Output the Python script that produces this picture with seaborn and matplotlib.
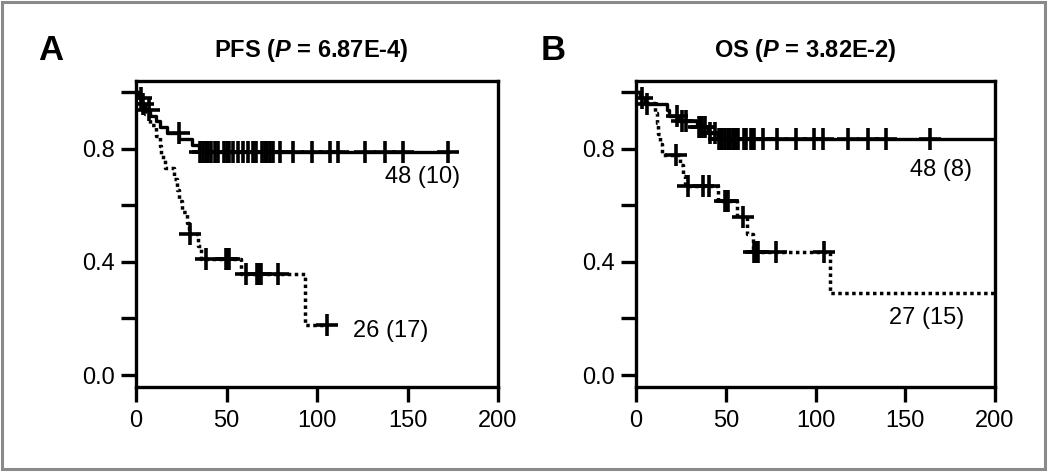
import numpy as np
import pandas as pd
import matplotlib
matplotlib.use("Agg")
import matplotlib.pyplot as plt
import seaborn as sns
from matplotlib.patches import Rectangle

### data (time in months, survival fraction)

# A) PFS, solid group: 48 (10)
pfs_solid_t = [0, 1.5, 3, 5, 8, 11, 13, 17, 24, 31, 35, 173]
pfs_solid_s = [1.0, 0.979, 0.958, 0.938, 0.917, 0.896, 0.875, 0.854, 0.833, 0.812, 0.787, 0.787]
pfs_solid_cens = [2.5, 4, 7, 23.5, 35.5, 37, 38.5, 40, 41.5, 43.5, 45.5, 48.5, 50, 51.5,
                  53.5, 56.5, 59, 62, 64.5, 66.5, 69.5, 71, 72.5, 74, 75.5, 79.5, 86.5,
                  97, 107, 111.5, 126.5, 137.5, 147.5, 172.5]

# A) PFS, dotted group: 26 (17)
pfs_dot_t = [0, 2, 5, 8, 11, 13, 14, 16, 21, 22.5, 24, 25.5, 28, 29.5, 34, 36, 58, 93.5, 106]
pfs_dot_s = [1.0, 0.962, 0.923, 0.885, 0.846, 0.808, 0.769, 0.731, 0.692, 0.654, 0.615,
             0.577, 0.538, 0.50, 0.455, 0.41, 0.356, 0.178, 0.178]
pfs_dot_cens = [30, 38.5, 49.5, 50.5, 51.5, 60.5, 67, 68, 69, 78.5, 105.5]

# B) OS, solid group: 48 (8)
os_solid_t = [0, 2, 5, 17, 18.5, 24, 34, 40, 45.5, 200]
os_solid_s = [1.0, 0.979, 0.958, 0.938, 0.917, 0.896, 0.875, 0.854, 0.833, 0.833]
os_solid_cens = [3.5, 6, 23, 25.5, 28, 35, 36, 37, 38.5, 41, 44, 46, 47, 48, 49.5, 51,
                 52.5, 54, 55, 56, 57, 60, 61.5, 64, 65, 66, 71, 78.5, 89, 99, 104, 118,
                 129, 139, 164]

# B) OS, dotted group: 27 (15)
os_dot_t = [0, 3, 10.5, 11.5, 12.5, 13.5, 14.5, 24.5, 26, 27.5, 45.5, 56, 62, 65, 108, 200]
os_dot_s = [1.0, 0.963, 0.926, 0.889, 0.852, 0.815, 0.778, 0.741, 0.704, 0.667, 0.615,
            0.56, 0.50, 0.436, 0.29, 0.29]
os_dot_cens = [22.5, 29, 37.5, 40.5, 49.5, 50.5, 51.5, 59.5, 66, 67, 68, 78, 105]

panel_letters = ["A", "B"]
panel_titles = [r"PFS ($P$ = 6.87E-4)", r"OS ($P$ = 3.82E-2)"]
pfs_labels = ["48 (10)", "26 (17)"]
os_labels = ["48 (8)", "27 (15)"]

x_ticks = [0, 50, 100, 150, 200]
y_ticks = [0.0, 0.2, 0.4, 0.6, 0.8, 1.0]
y_ticklabels = ["0.0", "", "0.4", "", "0.8", ""]

### style
sns.set_style("ticks")
plt.rcParams["font.family"] = ["Liberation Sans", "DejaVu Sans"]
plt.rcParams["text.color"] = "black"
plt.rcParams["mathtext.fontset"] = "custom"
plt.rcParams["mathtext.it"] = "Liberation Sans:italic:bold"
plt.rcParams["mathtext.rm"] = "Liberation Sans:bold"

LW = 2.4      # curves / frame
FS = 17       # tick labels and group labels


def surv_at(t_steps, s_steps, times):
    # value of the step curve at each censor time
    idx = np.searchsorted(np.array(t_steps), np.array(times), side="right") - 1
    return np.array(s_steps)[idx]


def km_curve(ax, t, s, cens, style):
    df = pd.DataFrame({"time": t, "surv": s})
    if style == "solid":
        sns.lineplot(data=df, x="time", y="surv", ax=ax, color="black", linewidth=LW,
                     drawstyle="steps-post", sort=False, estimator=None)
    else:
        sns.lineplot(data=df, x="time", y="surv", ax=ax, color="black", linewidth=2.5,
                     linestyle=(0, (1, 1)), drawstyle="steps-post", sort=False, estimator=None)
    cdf = pd.DataFrame({"time": cens, "surv": surv_at(t, s, cens)})
    sns.scatterplot(data=cdf, x="time", y="surv", ax=ax, color="black", marker="+",
                    s=230, linewidth=2.6, zorder=5)


fig = plt.figure(figsize=(10.5, 4.72), dpi=100)
W, H = 1050, 472
ax_a = fig.add_axes([136 / W, 1 - 387 / H, 362 / W, 306 / H])
ax_b = fig.add_axes([636 / W, 1 - 387 / H, 359 / W, 306 / H])

km_curve(ax_a, pfs_solid_t, pfs_solid_s, pfs_solid_cens, "solid")
km_curve(ax_a, pfs_dot_t, pfs_dot_s, pfs_dot_cens, "dotted")
km_curve(ax_b, os_solid_t, os_solid_s, os_solid_cens, "solid")
km_curve(ax_b, os_dot_t, os_dot_s, os_dot_cens, "dotted")

ax_a.text(179, 0.70, pfs_labels[0], ha="right", va="center", fontsize=FS, color="black")
ax_a.text(120, 0.155, pfs_labels[1], ha="left", va="center", fontsize=FS, color="black")
ax_b.text(187, 0.725, os_labels[0], ha="right", va="center", fontsize=FS, color="black")
ax_b.text(183, 0.20, os_labels[1], ha="right", va="center", fontsize=FS, color="black")

for ax in [ax_a, ax_b]:
    ax.set_xlim(0, 200)
    ax.set_ylim(-0.042, 1.039)
    ax.set_xticks(x_ticks)
    ax.set_yticks(y_ticks)
    ax.set_yticklabels(y_ticklabels)
    ax.set_xlabel("")
    ax.set_ylabel("")
    for sp in ax.spines.values():
        sp.set_visible(True)
        sp.set_linewidth(LW)
        sp.set_color("black")
    ax.tick_params(axis="both", direction="out", length=10.5, width=LW,
                   labelsize=FS, colors="black")
    ax.tick_params(axis="x", pad=6)
    ax.tick_params(axis="y", pad=5)

# panel letters and titles
fig.text(38 / W, 1 - 51 / H, panel_letters[0], fontsize=25, fontweight="bold", va="center", ha="left")
fig.text(541 / W, 1 - 51 / H, panel_letters[1], fontsize=25, fontweight="bold", va="center", ha="left")
fig.text(311 / W, 1 - 51 / H, panel_titles[0], fontsize=17, fontweight="bold", va="center", ha="center")
fig.text(805 / W, 1 - 51 / H, panel_titles[1], fontsize=17, fontweight="bold", va="center", ha="center")

# gray outer frame
fig.patches.append(Rectangle((1.5 / W, 3 / H), 1043 / W, 467.5 / H, transform=fig.transFigure,
                             fill=False, edgecolor="#8a8a8a", linewidth=2.2))

fig.savefig("out.png", dpi=100, facecolor="white")
